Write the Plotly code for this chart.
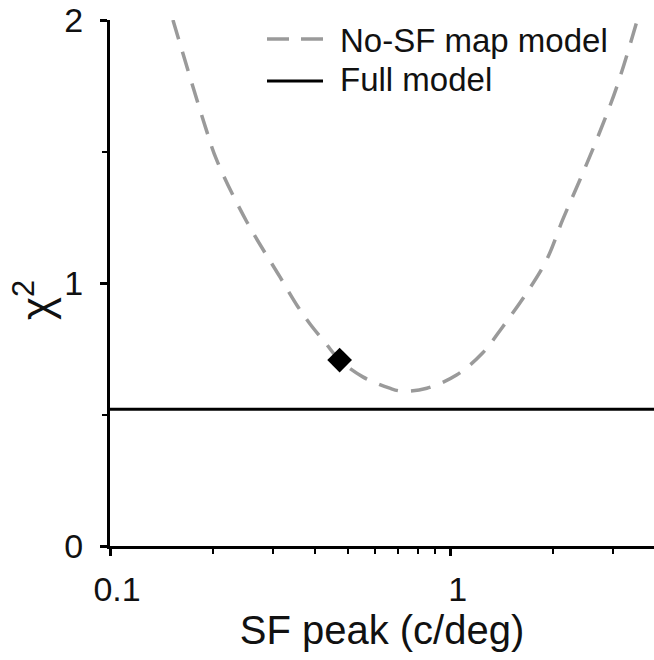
import numpy as np
import plotly.graph_objects as go

# Data
sf_peak = [0.153, 0.191, 0.2056, 0.252, 0.315, 0.356, 0.386, 0.43, 0.472, 0.552,
           0.662, 0.718, 0.851, 1.04, 1.24, 1.42, 1.67, 1.91, 2.13, 2.39, 2.68, 3.07, 3.51]
chi2_nosf = [2.0, 1.589, 1.468, 1.233, 1.024, 0.91, 0.845, 0.77, 0.707, 0.643,
             0.60, 0.589, 0.60, 0.65, 0.734, 0.833, 0.962, 1.087, 1.24, 1.39, 1.544, 1.745, 1.99]
full_model_x = [0.1, 3.95]
full_model_chi2 = [0.52, 0.52]
best_x = [0.472]
best_chi2 = [0.707]

x_major = [0.1, 1]
x_major_text = ["0.1", "1"]
x_minor = [0.2, 0.3, 0.4, 0.5, 0.6, 0.7, 0.8, 0.9, 2, 3, 4]
y_major = [0, 1, 2]
y_minor = [0.5, 1.5]

FONT = "Liberation Sans, Arial, Helvetica, sans-serif"
W, H = 654, 660
ML, MR, MT, MB = 110, 0, 20, 114
PW, PH = W - ML - MR, H - MT - MB

def px(xp):
    return (xp - ML) / PW

def py(yp):
    return (H - MB - yp) / PH

fig = go.Figure()
fig.add_trace(go.Scatter(x=sf_peak, y=chi2_nosf, mode="lines", name="No-SF map model",
                         line=dict(color="#9a9a9a", width=3.5, dash="20px,13px", shape="spline"),
                         showlegend=False))
fig.add_trace(go.Scatter(x=full_model_x, y=full_model_chi2, mode="lines", name="Full model",
                         line=dict(color="black", width=3), showlegend=False))
fig.add_trace(go.Scatter(x=best_x, y=best_chi2, mode="markers", name="best",
                         marker=dict(symbol="diamond", size=19, color="black"), showlegend=False))

# legend drawn manually
shapes = [
    dict(type="line", xref="paper", yref="paper", x0=px(267), x1=px(323), y0=py(39), y1=py(39),
         line=dict(color="#9a9a9a", width=3.5, dash="22px,12px")),
    dict(type="line", xref="paper", yref="paper", x0=px(267), x1=px(323), y0=py(81), y1=py(81),
         line=dict(color="black", width=3)),
]
annotations = [
    dict(text="No-SF map model", xref="paper", yref="paper", x=px(338), y=py(41),
         xanchor="left", yanchor="middle", showarrow=False, font=dict(size=33, family=FONT, color="#111")),
    dict(text="Full model", xref="paper", yref="paper", x=px(338), y=py(79),
         xanchor="left", yanchor="middle", showarrow=False, font=dict(size=33, family=FONT, color="#111")),
    # y-axis title
    dict(text="χ<sup>2</sup>", xref="paper", yref="paper", x=px(33), y=py(300),
         xanchor="center", yanchor="middle", textangle=-90, showarrow=False,
         font=dict(size=44, family=FONT, color="#111")),
]

fig.update_layout(
    width=W, height=H, margin=dict(l=ML, r=MR, t=MT, b=MB),
    paper_bgcolor="white", plot_bgcolor="white",
    font=dict(family=FONT, color="#111"),
    shapes=shapes, annotations=annotations,
    xaxis=dict(type="log", range=[-1, np.log10(3.95)], tickvals=x_major, ticktext=x_major_text,
               ticks="outside", ticklen=7, tickwidth=2.5, tickcolor="black",
               showline=True, linewidth=3, linecolor="black", showgrid=False, zeroline=False,
               tickfont=dict(size=34), ticklabelstandoff=4, ticklabelshift=7,
               minor=dict(tickvals=x_minor, ticks="outside", ticklen=5, tickwidth=2, tickcolor="black", showgrid=False),
               title=dict(text="SF peak (c/deg)", font=dict(size=40), standoff=10)),
    yaxis=dict(range=[0, 2], tickvals=y_major, ticks="outside", ticklen=7, tickwidth=2.5, tickcolor="black",
               showline=True, linewidth=3, linecolor="black", showgrid=False, zeroline=False,
               tickfont=dict(size=34), ticklabelstandoff=10,
               minor=dict(tickvals=y_minor, ticks="outside", ticklen=5, tickwidth=2, tickcolor="black", showgrid=False)),
)

fig.write_html("out.html")
